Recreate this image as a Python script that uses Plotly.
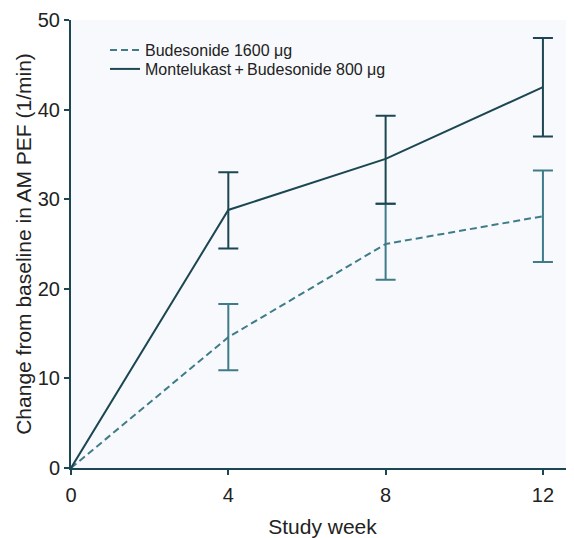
import plotly.graph_objects as go

weeks = [0, 4, 8, 12]
bud_mean = [0, 14.6, 25.0, 28.1]
bud_upper = [None, 18.3, 29.5, 33.2]
bud_lower = [None, 10.9, 21.0, 23.0]
mon_mean = [0, 28.8, 34.5, 42.5]
mon_upper = [None, 33.0, 39.3, 48.0]
mon_lower = [None, 24.5, 29.5, 37.0]

bud_name = "Budesonide 1600 \u03bcg"
mon_name = "Montelukast\u2009+\u2009Budesonide 800 \u03bcg"

c_bud = "#3f7c88"
c_mon = "#1c4752"

fig = go.Figure()

def err_trace(mean, up, lo, color):
    xs = [w for w, u in zip(weeks, up) if u is not None]
    ys = [m for m, u in zip(mean, up) if u is not None]
    plus = [u - m for m, u in zip(mean, up) if u is not None]
    minus = [m - l for m, l in zip(mean, lo) if l is not None]
    return go.Scatter(x=xs, y=ys, mode="markers", marker=dict(size=1, opacity=0),
                      showlegend=False, hoverinfo="skip",
                      error_y=dict(type="data", symmetric=False, array=plus, arrayminus=minus,
                                   color=color, thickness=2, width=10))

fig.add_trace(go.Scatter(x=weeks, y=bud_mean, mode="lines", name=bud_name, legend="legend",
                         line=dict(color=c_bud, width=2, dash="7px,4px")))
fig.add_trace(go.Scatter(x=weeks, y=mon_mean, mode="lines", name=mon_name, legend="legend2",
                         line=dict(color=c_mon, width=2)))
fig.add_trace(err_trace(bud_mean, bud_upper, bud_lower, c_bud))
fig.add_trace(err_trace(mon_mean, mon_upper, mon_lower, c_mon))

leg_common = dict(x=0.0676, xanchor="left", yanchor="middle",
                  bgcolor="rgba(0,0,0,0)", font=dict(size=16), itemwidth=30)

fig.update_layout(
    width=566, height=530,
    margin=dict(l=63, r=0, t=12, b=70),
    paper_bgcolor="white",
    plot_bgcolor="#f7f9fc",
    font=dict(family="Liberation Sans, Arial, sans-serif", color="#222222"),
    legend=dict(y=0.933, **leg_common),
    legend2=dict(y=0.8906, **leg_common),
    xaxis=dict(range=[0, 12.79], tickvals=[0, 4, 8, 12], ticks="outside", ticklen=5,
               tickcolor=c_mon, tickwidth=2, automargin=False, ticklabelstandoff=3,
               showline=True, linecolor=c_mon, linewidth=2, showgrid=False, zeroline=False,
               tickfont=dict(size=20),
               title=dict(text="Study week", font=dict(size=21), standoff=23)),
    yaxis=dict(range=[0, 50], tickvals=[0, 10, 20, 30, 40, 50], ticks="outside", ticklen=5,
               tickcolor=c_mon, tickwidth=2, automargin=False,
               showline=True, linecolor=c_mon, linewidth=2, showgrid=False, zeroline=False,
               tickfont=dict(size=20),
               title=dict(text="Change from baseline in AM PEF (1/min)", font=dict(size=21), standoff=0)),
)

fig.write_html("out.html")
